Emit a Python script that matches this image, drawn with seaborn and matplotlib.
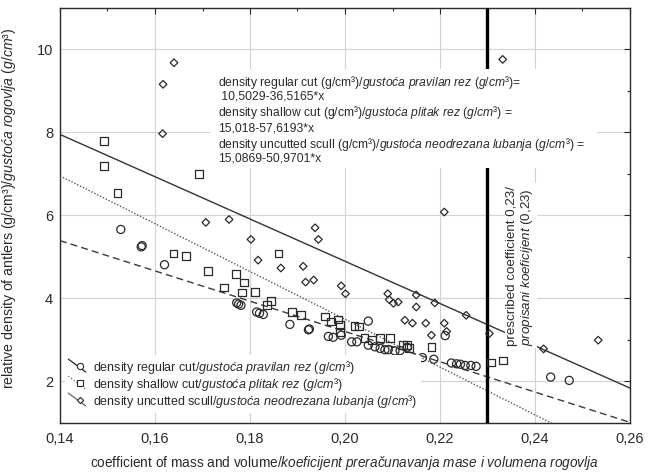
import numpy as np
import pandas as pd
import matplotlib
matplotlib.use("Agg")
import matplotlib.pyplot as plt
import seaborn as sns
from matplotlib.lines import Line2D
from matplotlib.patches import Rectangle
from matplotlib.legend_handler import HandlerBase
from matplotlib.ticker import MultipleLocator, FuncFormatter

# ---- measured samples -------------------------------------------------------
regular_x = [0.1528, 0.1571, 0.1573, 0.1620, 0.1772, 0.1776, 0.1781, 0.1814, 0.1820,
             0.1828, 0.1884, 0.1923, 0.1925, 0.1965, 0.1975, 0.1992, 0.2014, 0.2025,
             0.2049, 0.2049, 0.2063, 0.2074, 0.2084, 0.2091, 0.2105, 0.2116, 0.2131,
             0.2163, 0.2187, 0.2211, 0.2224, 0.2235, 0.2243, 0.2253, 0.2265, 0.2276,
             0.2433, 0.2472]
regular_y = [5.66, 5.24, 5.27, 4.81, 3.89, 3.86, 3.83, 3.67, 3.64,
             3.61, 3.37, 3.24, 3.26, 3.08, 3.06, 3.11, 2.95, 2.95,
             3.45, 2.87, 2.83, 2.79, 2.76, 2.76, 2.73, 2.74, 2.82,
             2.57, 2.53, 3.10, 2.44, 2.42, 2.41, 2.38, 2.38, 2.36,
             2.10, 2.02]

shallow_x = [0.1493, 0.1493, 0.1521, 0.1692, 0.1639, 0.1665, 0.1712, 0.1770, 0.1788,
             0.1745, 0.1784, 0.1811, 0.1844, 0.1835, 0.1860, 0.1889, 0.1907, 0.1958,
             0.1970, 0.1986, 0.1989, 0.1989, 0.2020, 0.2030, 0.2041, 0.2056, 0.2074,
             0.2095, 0.2123, 0.2130, 0.2135, 0.2182, 0.2307, 0.2332]
shallow_y = [7.79, 7.18, 6.54, 6.99, 5.08, 5.01, 4.66, 4.58, 4.38,
             4.26, 4.14, 4.15, 3.93, 3.83, 5.08, 3.67, 3.59, 3.56,
             3.44, 3.49, 3.35, 3.19, 3.33, 3.32, 3.05, 2.99, 3.05,
             3.04, 2.87, 2.87, 2.81, 2.83, 2.45, 2.50]

uncut_x = [0.1617, 0.1640, 0.1616, 0.1707, 0.1756, 0.1802, 0.1817, 0.1865, 0.1912,
           0.1917, 0.1934, 0.1937, 0.1944, 0.1992, 0.2001, 0.2090, 0.2093, 0.2102,
           0.2112, 0.2150, 0.2150, 0.2189, 0.2255, 0.2126, 0.2142, 0.2170, 0.2209,
           0.2214, 0.2182, 0.2209, 0.2304, 0.2332, 0.2418, 0.2533]
uncut_y = [9.16, 9.68, 7.97, 5.83, 5.90, 5.42, 4.92, 4.73, 4.77,
           4.39, 4.44, 5.70, 5.42, 4.30, 4.11, 4.11, 3.97, 3.88,
           3.91, 4.08, 3.79, 3.89, 3.59, 3.47, 3.40, 3.40, 3.40,
           3.20, 3.11, 6.08, 3.15, 9.76, 2.78, 2.99]

# regression coefficients (intercept, slope) of each group
regular_fit = (10.5029, -36.5165)
shallow_fit = (15.018, -57.6193)
uncut_fit = (15.0869, -50.9701)

prescribed = 0.23
x_range = [0.14, 0.26]
x_ticks = [0.14, 0.16, 0.18, 0.20, 0.22, 0.24, 0.26]
y_ticks = [2, 4, 6, 8, 10]

# ---- style ------------------------------------------------------------------
sns.set_style("white")
plt.rcParams["font.family"] = ["Liberation Sans", "DejaVu Sans"]
plt.rcParams["mathtext.fontset"] = "custom"
plt.rcParams["mathtext.rm"] = "Liberation Sans"
plt.rcParams["mathtext.it"] = "Liberation Sans:italic"
plt.rcParams["mathtext.bf"] = "Liberation Sans:bold"

INK = "#2a2a2a"
GRID = "#d2d2d2"


def it(s):
    """Italic run of text rendered through mathtext."""
    return r"$\mathit{" + s.replace(" ", r"\ ").replace(",", "{,}") + "}$"


fig = plt.figure(figsize=(6.56, 4.73), dpi=100)
ax = fig.add_axes([60 / 656, 50.3 / 473, 570 / 656, 414.7 / 473])
ax.set_xlim(*x_range)
ax.set_ylim(1, 11)

# ---- fitted lines -----------------------------------------------------------
fits = [
    (regular_fit, (0, (5, 3)), "#3a3a3a", 1.0),
    (shallow_fit, (0, (1, 1.3)), "#555555", 1.0),
    (uncut_fit, "-", "#333333", 1.0),
]
xs = np.array(x_range)
for (b0, b1), ls, col, lw in fits:
    line_df = pd.DataFrame({"x": xs, "y": b0 + b1 * xs})
    sns.lineplot(data=line_df, x="x", y="y", ax=ax, color=col, lw=lw,
                 linestyle=ls, zorder=3)

# ---- scatter points ---------------------------------------------------------
groups = [
    (regular_x, regular_y, "o", 34),
    (shallow_x, shallow_y, "s", 32),
    (uncut_x, uncut_y, "D", 15),
]
for gx, gy, mk, sz in groups:
    pts = pd.DataFrame({"x": gx, "y": gy})
    sns.scatterplot(data=pts, x="x", y="y", ax=ax, marker=mk, s=sz,
                    color="none", edgecolor=INK, linewidth=0.9, zorder=6)

# ---- prescribed coefficient -------------------------------------------------
ax.axvline(prescribed, color="black", lw=2.4, zorder=4)
ax.text(0.2338, 2.86,
        "prescribed coefficient 0,23/\n" + it("propisani koeficijent (0,23)"),
        rotation=90, ha="left", va="bottom", fontsize=9.6, color=INK,
        linespacing=1.1, zorder=5,
        bbox=dict(boxstyle="square,pad=0.2", fc="white", ec="none"))

# ---- regression equations ---------------------------------------------------
ax.add_patch(Rectangle((0.1715, 7.14), 0.0815, 2.38, facecolor="white",
                       edgecolor="none", zorder=4.5))
eq_lines = [
    (9.21, "density regular cut (g/cm³)/" + it("gustoća pravilan rez (g/cm³)") + "="),
    (8.87, " 10,5029-36,5165*x"),
    (8.49, "density shallow cut (g/cm³)/" + it("gustoća plitak rez (g/cm³)") + " ="),
    (8.10, "15,018-57,6193*x"),
    (7.71, "density uncutted scull (g/cm³)/" + it("gustoća neodrezana lubanja (g/cm³)") + " ="),
    (7.36, "15,0869-50,9701*x"),
]
for yy, txt in eq_lines:
    ax.text(0.1733, yy, txt, fontsize=8.7, color=INK, va="center", ha="left",
            zorder=5)


# ---- legend with slanted keys -----------------------------------------------
class SlantHandler(HandlerBase):
    def create_artists(self, legend, orig_handle, xdescent, ydescent, width,
                       height, fontsize, trans):
        x0, x1 = -xdescent, -xdescent + width
        y0, y1 = -ydescent + height + 2, -ydescent - 1
        ln = Line2D([x0, x1], [y0, y1], color=orig_handle.get_color(),
                    linestyle=orig_handle.get_linestyle(), lw=0.9)
        mk = Line2D([(x0 + x1) / 2 + 2], [(y0 + y1) / 2 - 0.5],
                    marker=orig_handle.get_marker(),
                    markersize=orig_handle.get_markersize(),
                    markerfacecolor="white", markeredgecolor=INK,
                    markeredgewidth=0.8, linestyle="none")
        for a in (ln, mk):
            a.set_transform(trans)
        return [ln, mk]


handles = [
    Line2D([], [], color="#222222", linestyle="-", marker="o", markersize=4.5),
    Line2D([], [], color="#666666", linestyle=":", marker="s", markersize=4.5),
    Line2D([], [], color="#666666", linestyle="-", marker="D", markersize=3.2),
]
labels = [
    "density regular cut/" + it("gustoća pravilan rez (g/cm³)"),
    "density shallow cut/" + it("gustoća plitak rez (g/cm³)"),
    "density uncutted scull/" + it("gustoća neodrezana lubanja (g/cm³)"),
]
leg = ax.legend(handles, labels, loc="center left",
                bbox_to_anchor=(0.008, 0.093), fontsize=9, frameon=True,
                facecolor="white", edgecolor="none", framealpha=1,
                handlelength=1.4, handletextpad=0.6, labelspacing=0.0,
                borderpad=0.3, borderaxespad=0,
                handler_map={Line2D: SlantHandler()})
for t in leg.get_texts():
    t.set_color(INK)
leg.set_zorder(7)

# ---- axes, ticks, grid ------------------------------------------------------
ax.xaxis.set_major_locator(MultipleLocator(0.02))
ax.xaxis.set_minor_locator(MultipleLocator(0.01))
ax.yaxis.set_major_locator(MultipleLocator(2))
ax.yaxis.set_minor_locator(MultipleLocator(1))
ax.set_xticks(x_ticks)
ax.set_yticks(y_ticks)
ax.xaxis.set_major_formatter(FuncFormatter(lambda v, p: f"{v:.2f}".replace(".", ",")))
ax.yaxis.set_major_formatter(FuncFormatter(lambda v, p: f"{v:.0f}"))
ax.tick_params(which="both", direction="in", top=True, right=True,
               color=INK, width=0.8)
ax.tick_params(which="major", length=4.5, labelsize=10.5, labelcolor=INK)
ax.tick_params(which="minor", length=2.5)
ax.tick_params(axis="x", which="major", pad=7)
ax.tick_params(axis="y", which="major", pad=5)
ax.grid(True, which="major", color=GRID, lw=0.8, zorder=0)
ax.set_axisbelow(True)
for sp in ax.spines.values():
    sp.set_color(INK)
    sp.set_linewidth(1.0)

ax.set_xlabel("coefficient of mass and volume/"
              + it("koeficijent preračunavanja mase i volumena rogovlja"),
              fontsize=9.8, color=INK)
ax.set_ylabel("relative density of antlers (g/cm³)/" + it("gustoća rogovlja (g/cm³)"),
              fontsize=10.2, color=INK)
ax.xaxis.set_label_coords(0.499, -0.075)
ax.yaxis.set_label_coords(-0.074, 0.518)

fig.savefig("out.png", dpi=100, facecolor="white")
